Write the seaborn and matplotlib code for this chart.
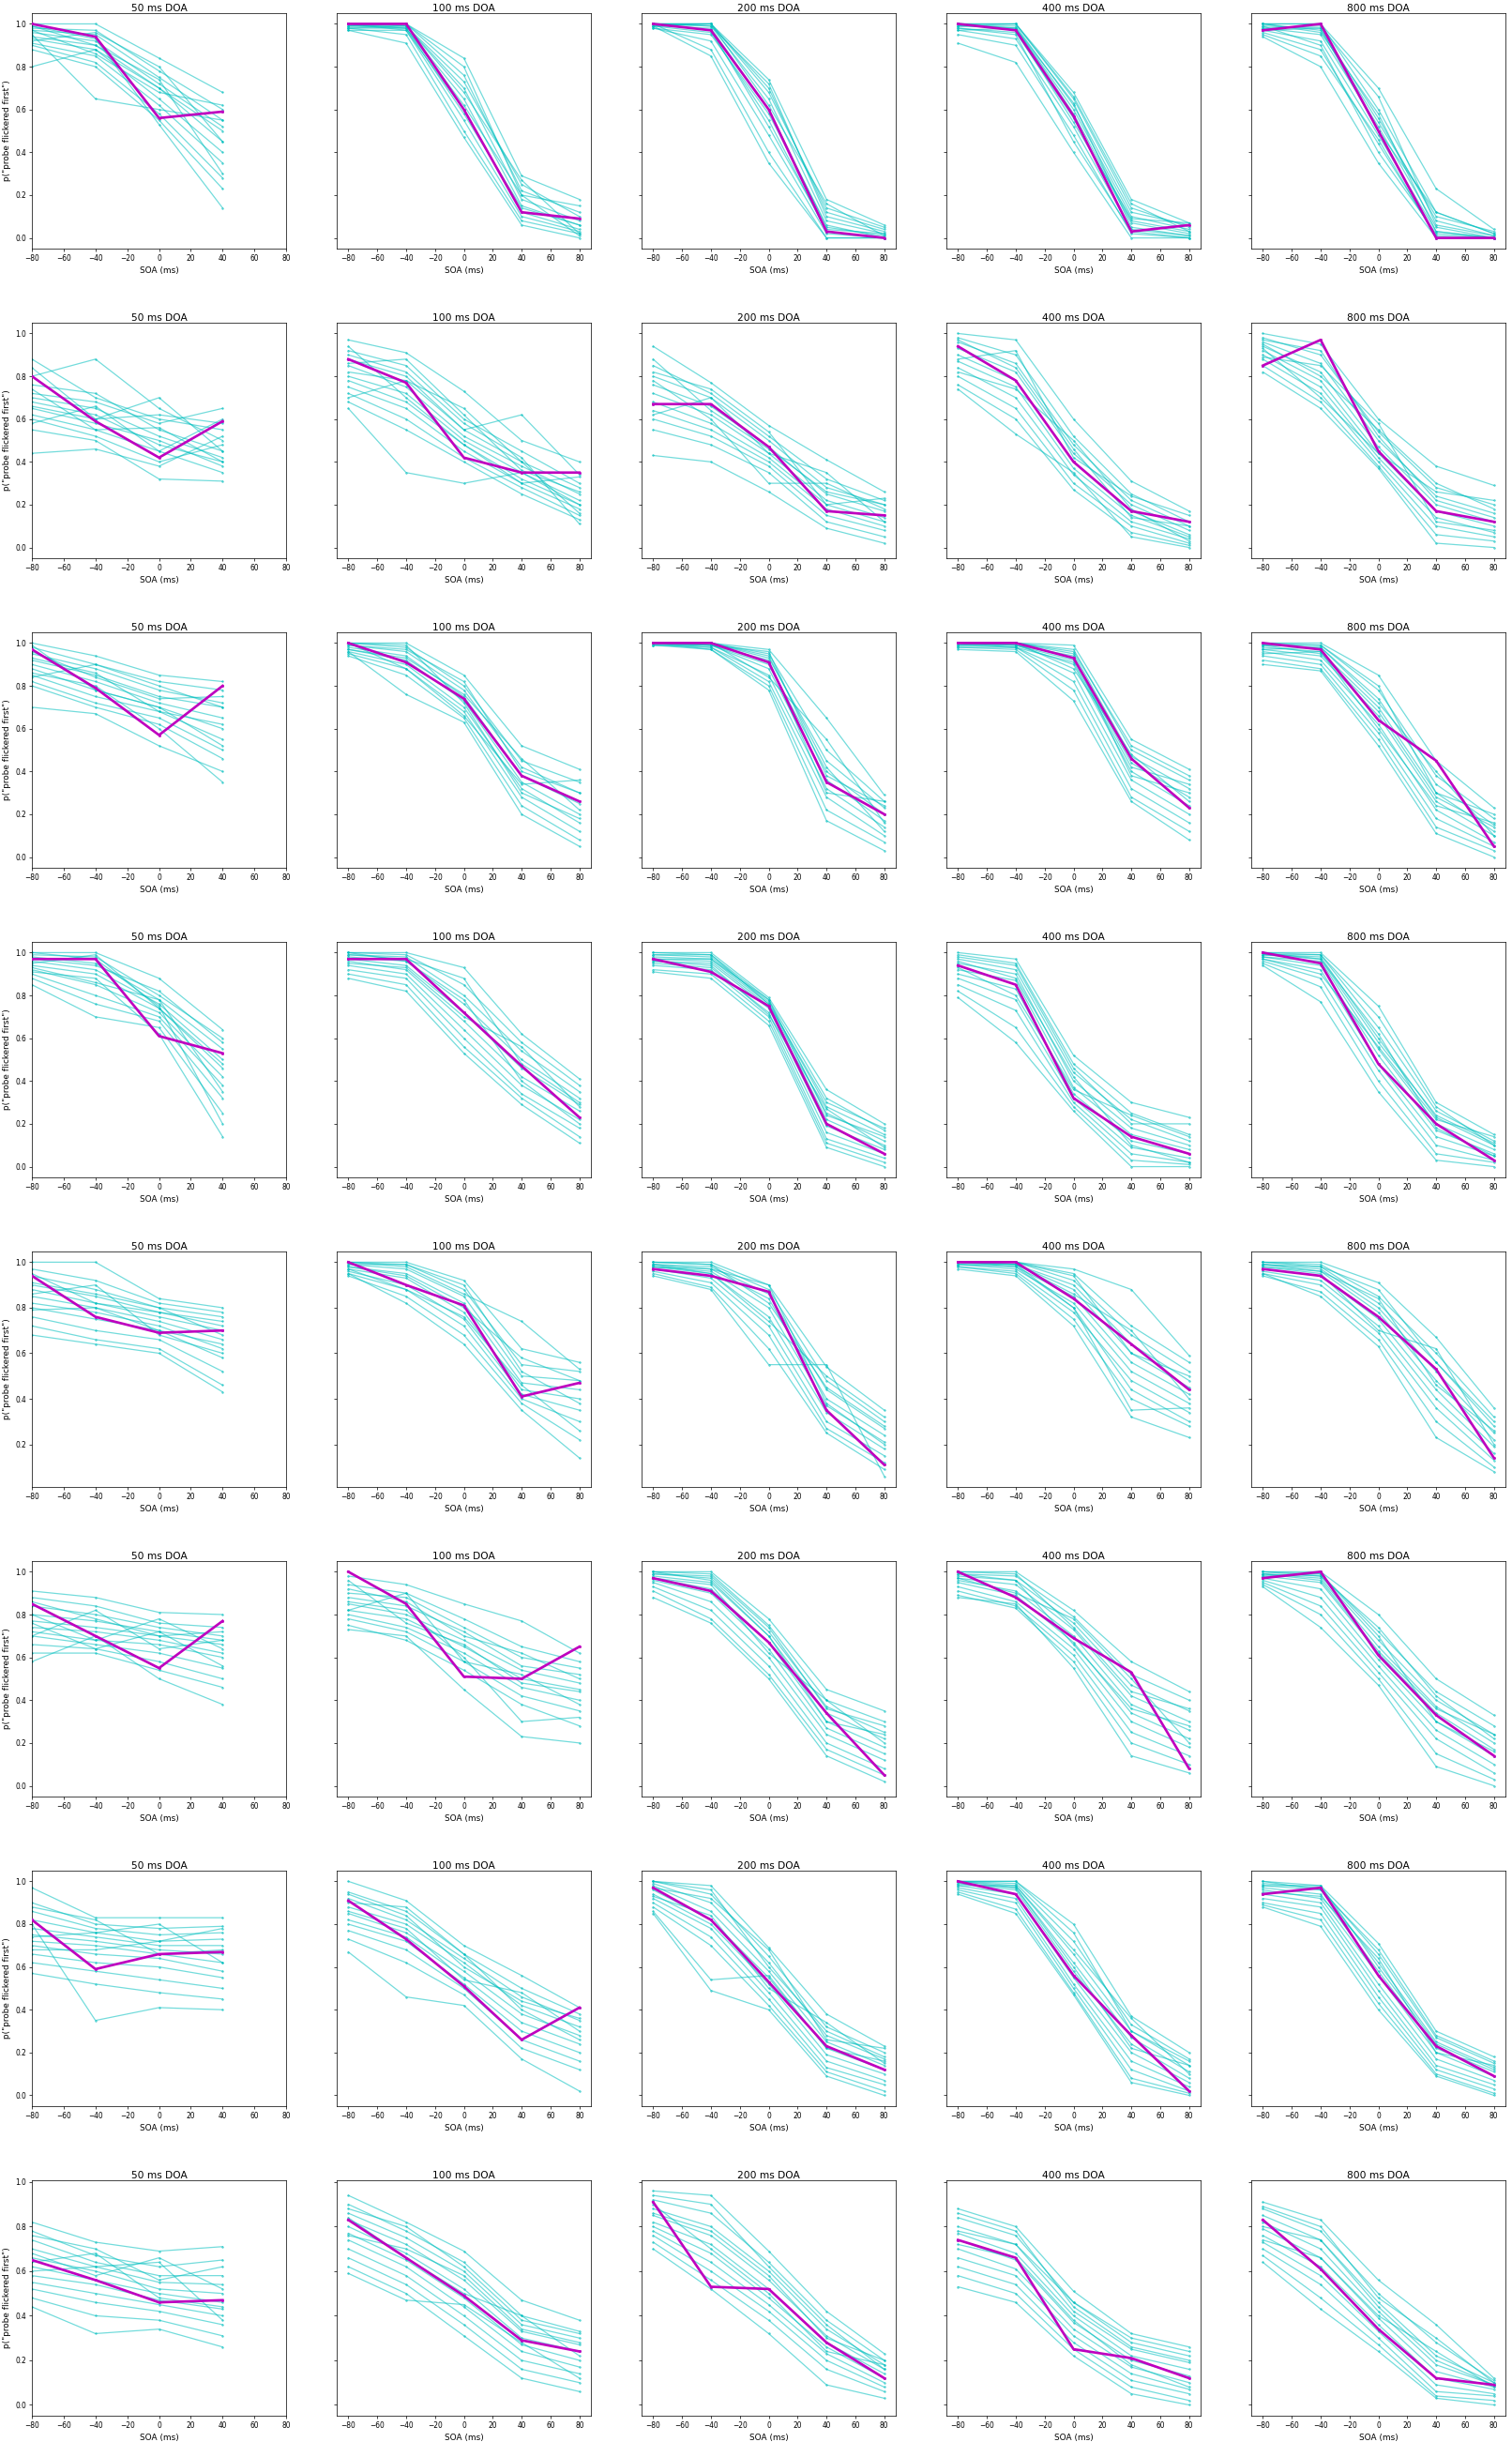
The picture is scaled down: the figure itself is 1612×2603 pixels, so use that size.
import pandas as pd
import seaborn as sns
import matplotlib.pyplot as plt

SOA = [-80, -40, 0, 40, 80]
DOA = ["50 ms DOA", "100 ms DOA", "200 ms DOA", "400 ms DOA", "800 ms DOA"]

# group means (magenta), in percent; 50 ms DOA has no 80 ms SOA
mean_r1 = [[100, 94, 56, 59], [100, 100, 60, 12, 9], [100, 97, 60, 3, 0], [100, 97, 57, 3, 6], [97, 100, 50, 0, 0]]
mean_r2 = [[80, 59, 42, 59], [88, 77, 42, 35, 35], [67, 67, 47, 17, 15], [94, 78, 40, 17, 12], [85, 97, 45, 17, 12]]
mean_r3 = [[97, 79, 57, 80], [100, 91, 74, 38, 26], [100, 100, 91, 35, 20], [100, 100, 93, 46, 23], [100, 97, 64, 45, 5]]
mean_r4 = [[97, 97, 61, 53], [97, 97, 72, 47, 23], [97, 91, 75, 20, 6], [94, 85, 32, 14, 6], [100, 95, 48, 20, 3]]
mean_r5 = [[94, 76, 69, 70], [100, 90, 81, 41, 47], [97, 94, 87, 35, 11], [100, 100, 84, 64, 44], [97, 94, 76, 53, 14]]
mean_r6 = [[85, 70, 55, 77], [100, 85, 51, 50, 65], [97, 91, 67, 34, 5], [100, 88, 69, 53, 8], [97, 100, 61, 33, 14]]
mean_r7 = [[82, 59, 66, 67], [91, 73, 51, 26, 41], [97, 82, 53, 23, 12], [100, 94, 56, 28, 2], [94, 97, 56, 23, 9]]
mean_r8 = [[65, 56, 46, 47], [83, 66, 49, 29, 24], [91, 53, 52, 28, 12], [74, 66, 25, 21, 12], [83, 61, 34, 12, 9]]

# individual observers (cyan), in percent
boot_r1 = [
    [[100, 100, 84, 68], [98, 97, 78, 60], [97, 95, 75, 55], [96, 92, 72, 52], [94, 90, 70, 45], [93, 88, 65, 40],
     [91, 85, 62, 35], [90, 82, 58, 28], [88, 80, 55, 23], [80, 88, 70, 50], [95, 65, 60, 55], [99, 93, 53, 14],
     [92, 96, 80, 45], [97, 86, 68, 62], [99, 90, 74, 30]],
    [[100, 100, 84, 29, 18], [100, 100, 76, 22, 12], [99, 99, 70, 18, 8], [98, 98, 65, 15, 6], [97, 97, 60, 12, 4],
     [100, 97, 55, 10, 3], [98, 95, 50, 8, 2], [97, 91, 47, 6, 0], [100, 99, 73, 25, 10], [99, 98, 62, 20, 1],
     [99, 100, 80, 20, 15], [100, 98, 58, 14, 6], [98, 99, 68, 27, 2]],
    [[100, 100, 74, 18, 6], [100, 100, 70, 12, 4], [100, 99, 65, 8, 2], [99, 98, 60, 5, 1], [99, 96, 55, 3, 0],
     [98, 92, 48, 2, 0], [100, 88, 40, 0, 0], [99, 85, 35, 0, 0], [100, 100, 68, 14, 5], [98, 95, 58, 6, 0],
     [100, 99, 72, 10, 3], [99, 100, 62, 16, 1], [100, 97, 52, 4, 2]],
    [[100, 100, 68, 18, 7], [100, 100, 65, 14, 5], [99, 98, 60, 10, 4], [98, 96, 56, 7, 2], [97, 93, 52, 4, 1],
     [95, 90, 48, 2, 0], [91, 82, 40, 0, 0], [99, 99, 62, 12, 6], [98, 95, 45, 3, 0], [100, 98, 58, 8, 3],
     [99, 100, 66, 16, 3], [100, 97, 54, 9, 7], [97, 98, 63, 5, 1]],
    [[100, 100, 70, 23, 4], [100, 100, 60, 12, 2], [99, 98, 56, 8, 1], [98, 95, 52, 5, 0], [97, 92, 48, 3, 0],
     [96, 88, 44, 1, 0], [94, 80, 35, 0, 0], [100, 97, 54, 10, 3], [99, 90, 40, 2, 0], [95, 85, 46, 0, 0],
     [98, 99, 66, 6, 1], [100, 96, 58, 3, 0], [97, 98, 50, 12, 2]],
]
boot_r2 = [
    [[88, 70, 60, 55], [80, 88, 65, 50], [76, 72, 55, 45], [72, 68, 58, 65], [70, 65, 52, 42], [68, 62, 48, 40],
     [65, 58, 50, 38], [62, 55, 45, 35], [60, 52, 40, 48], [55, 50, 32, 31], [44, 46, 38, 52], [66, 60, 70, 45],
     [84, 60, 62, 58], [58, 66, 45, 60], [74, 55, 56, 40]],
    [[97, 91, 73, 50, 40], [92, 85, 60, 45, 30], [88, 80, 55, 40, 28], [85, 75, 52, 38, 25], [80, 72, 50, 35, 22],
     [78, 68, 48, 32, 20], [75, 65, 45, 30, 18], [72, 60, 42, 28, 15], [68, 55, 40, 25, 13], [82, 78, 55, 62, 34],
     [65, 35, 30, 35, 20], [90, 82, 58, 42, 11], [86, 88, 62, 36, 26], [94, 70, 48, 30, 33], [70, 78, 65, 40, 16]],
    [[94, 77, 57, 41, 26], [85, 72, 52, 32, 22], [80, 70, 50, 28, 20], [76, 66, 47, 25, 17], [72, 62, 44, 22, 14],
     [68, 58, 42, 20, 12], [64, 55, 40, 18, 10], [60, 52, 38, 15, 8], [55, 48, 35, 12, 5], [43, 40, 26, 9, 2],
     [78, 60, 30, 30, 18], [88, 64, 46, 26, 20], [62, 70, 44, 35, 12], [82, 74, 54, 20, 23]],
    [[100, 97, 60, 31, 17], [98, 90, 52, 25, 12], [96, 86, 48, 22, 10], [93, 82, 44, 20, 8], [90, 78, 40, 17, 6],
     [87, 75, 37, 15, 5], [84, 70, 34, 12, 4], [80, 65, 30, 10, 2], [76, 60, 27, 7, 1], [74, 53, 35, 5, 0],
     [97, 84, 46, 14, 10], [88, 92, 42, 24, 15], [82, 74, 50, 18, 3]],
    [[100, 95, 60, 38, 29], [98, 90, 54, 28, 20], [96, 86, 50, 24, 16], [94, 82, 47, 20, 12], [92, 78, 44, 17, 10],
     [90, 75, 42, 14, 7], [88, 72, 40, 10, 5], [85, 68, 38, 6, 3], [82, 65, 37, 2, 0], [95, 80, 55, 30, 18],
     [97, 92, 52, 22, 14], [89, 85, 58, 12, 8], [93, 70, 44, 26, 22]],
]
boot_r3 = [
    [[100, 94, 85, 82], [98, 90, 82, 78], [95, 88, 78, 72], [92, 85, 75, 70], [90, 82, 72, 65], [88, 78, 70, 60],
     [85, 75, 68, 55], [82, 72, 65, 50], [80, 70, 62, 46], [70, 67, 52, 40], [86, 80, 60, 35], [96, 84, 74, 75],
     [93, 86, 68, 62], [84, 90, 80, 70], [99, 78, 70, 52]],
    [[100, 100, 85, 52, 41], [100, 98, 80, 45, 35], [99, 96, 78, 42, 30], [98, 94, 75, 38, 25], [97, 92, 73, 35, 20],
     [96, 90, 70, 32, 16], [95, 88, 68, 28, 12], [94, 85, 65, 24, 8], [96, 76, 63, 20, 5], [100, 99, 72, 30, 18],
     [99, 97, 82, 40, 30], [97, 93, 76, 46, 22], [100, 88, 66, 34, 36]],
    [[100, 100, 97, 65, 29], [100, 100, 95, 50, 26], [100, 100, 93, 45, 23], [100, 99, 90, 40, 20], [100, 99, 88, 36, 17],
     [100, 98, 85, 32, 14], [99, 98, 82, 28, 10], [99, 97, 80, 22, 7], [100, 97, 78, 17, 3], [100, 100, 94, 42, 12],
     [100, 99, 96, 38, 24], [100, 100, 84, 55, 16], [99, 99, 92, 30, 26]],
    [[100, 100, 99, 55, 41], [100, 100, 97, 50, 36], [100, 100, 95, 47, 32], [100, 99, 92, 44, 28], [99, 99, 90, 40, 24],
     [99, 98, 86, 36, 20], [98, 98, 82, 32, 16], [98, 97, 78, 28, 12], [97, 96, 73, 26, 8], [100, 100, 96, 52, 38],
     [100, 99, 94, 38, 30], [99, 100, 88, 48, 26], [100, 98, 91, 42, 34]],
    [[100, 100, 85, 45, 23], [100, 99, 78, 38, 18], [99, 98, 74, 34, 15], [98, 96, 70, 30, 12], [97, 94, 66, 26, 10],
     [96, 92, 62, 22, 7], [94, 90, 58, 18, 5], [92, 88, 55, 14, 3], [90, 87, 52, 11, 0], [99, 95, 68, 28, 14],
     [99, 99, 80, 30, 20], [97, 98, 72, 40, 10], [95, 96, 60, 24, 16]],
]
boot_r4 = [
    [[100, 100, 88, 64], [99, 98, 80, 60], [98, 95, 78, 55], [96, 92, 76, 50], [94, 90, 74, 46], [92, 85, 72, 42],
     [90, 80, 70, 38], [88, 76, 68, 32], [85, 70, 65, 25], [91, 88, 62, 14], [100, 97, 75, 20],
     [97, 94, 82, 58], [95, 99, 74, 48], [93, 86, 78, 35]],
    [[100, 100, 93, 62, 41], [100, 99, 85, 58, 38], [99, 98, 80, 54, 35], [98, 96, 76, 50, 32], [97, 94, 72, 46, 29],
     [96, 92, 68, 42, 26], [94, 90, 64, 38, 22], [92, 88, 60, 34, 18], [90, 85, 56, 32, 14], [88, 82, 53, 29, 11],
     [99, 97, 88, 48, 30], [95, 93, 70, 56, 28], [100, 96, 78, 40, 20]],
    [[100, 100, 79, 36, 20], [100, 99, 78, 32, 17], [99, 98, 77, 28, 15], [98, 97, 76, 25, 12], [97, 96, 75, 22, 10],
     [96, 95, 74, 19, 8], [95, 93, 72, 16, 6], [94, 92, 70, 13, 4], [92, 90, 68, 11, 2], [91, 88, 66, 9, 0],
     [99, 99, 76, 30, 18], [97, 97, 78, 24, 14], [96, 94, 71, 27, 9]],
    [[100, 97, 52, 30, 23], [99, 95, 48, 25, 15], [97, 92, 44, 22, 12], [95, 90, 40, 18, 10], [92, 87, 37, 15, 8],
     [90, 83, 34, 12, 6], [88, 78, 32, 9, 4], [85, 73, 30, 6, 2], [82, 65, 28, 3, 1], [79, 58, 26, 0, 0],
     [98, 94, 46, 20, 20], [96, 88, 42, 10, 2], [93, 80, 36, 24, 14]],
    [[100, 100, 75, 30, 15], [100, 99, 65, 26, 12], [99, 98, 60, 23, 10], [98, 96, 55, 20, 8], [98, 94, 52, 17, 6],
     [97, 92, 48, 14, 5], [96, 88, 45, 10, 3], [95, 84, 40, 6, 2], [94, 77, 35, 3, 0], [99, 97, 58, 24, 11],
     [99, 99, 70, 28, 10], [100, 97, 62, 18, 5], [97, 90, 56, 22, 14]],
]
boot_r5 = [
    [[100, 100, 84, 80], [97, 92, 82, 78], [94, 88, 80, 76], [90, 85, 78, 74], [88, 82, 76, 70], [85, 80, 74, 66],
     [82, 78, 72, 62], [80, 75, 70, 58], [76, 70, 66, 52], [72, 66, 62, 46], [68, 64, 60, 43], [86, 90, 68, 60],
     [91, 86, 80, 68], [95, 82, 78, 72], [79, 80, 70, 64]],
    [[100, 100, 92, 62, 56], [100, 99, 88, 55, 52], [99, 97, 85, 50, 48], [98, 95, 82, 47, 44], [97, 93, 78, 44, 40],
     [96, 90, 75, 42, 35], [95, 88, 72, 40, 30], [94, 85, 68, 38, 22], [95, 82, 64, 35, 14], [100, 98, 86, 74, 53],
     [99, 99, 90, 52, 38], [98, 94, 80, 58, 48], [97, 88, 76, 46, 26]],
    [[100, 100, 90, 54, 35], [100, 99, 88, 48, 30], [99, 98, 86, 44, 27], [99, 97, 84, 40, 24], [98, 96, 80, 37, 21],
     [98, 95, 76, 34, 18], [97, 93, 72, 30, 15], [96, 91, 68, 27, 12], [95, 89, 62, 25, 9], [94, 88, 55, 55, 6],
     [100, 99, 82, 45, 28], [98, 97, 90, 38, 20], [99, 95, 74, 50, 32]],
    [[100, 100, 97, 88, 59], [100, 100, 95, 72, 56], [100, 100, 92, 68, 52], [100, 99, 90, 64, 48], [100, 99, 88, 60, 45],
     [99, 98, 85, 56, 42], [99, 97, 82, 52, 38], [98, 96, 78, 48, 34], [98, 95, 75, 40, 28], [97, 94, 72, 32, 23],
     [100, 99, 80, 35, 36], [100, 100, 94, 60, 50], [99, 99, 86, 70, 40], [100, 98, 80, 44, 30]],
    [[100, 100, 91, 67, 36], [100, 99, 85, 60, 32], [99, 98, 82, 56, 28], [99, 97, 80, 52, 25], [98, 96, 78, 48, 22],
     [97, 94, 75, 44, 19], [96, 92, 72, 40, 16], [95, 90, 69, 36, 13], [94, 87, 66, 30, 10], [95, 85, 63, 23, 8],
     [100, 98, 88, 56, 30], [98, 95, 70, 62, 20], [99, 96, 84, 46, 26]],
]
boot_r6 = [
    [[91, 88, 81, 80], [88, 84, 76, 74], [84, 80, 74, 70], [80, 77, 72, 68], [77, 74, 70, 66], [74, 72, 68, 62],
     [72, 68, 66, 60], [70, 66, 62, 55], [66, 64, 58, 50], [62, 62, 54, 46], [58, 70, 50, 38], [80, 68, 78, 64],
     [86, 78, 70, 72], [70, 82, 64, 68], [76, 64, 72, 56]],
    [[98, 94, 85, 77, 62], [94, 90, 78, 65, 58], [90, 88, 74, 60, 55], [88, 84, 72, 56, 52], [85, 80, 68, 54, 48],
     [82, 78, 65, 50, 45], [80, 74, 62, 46, 40], [78, 72, 58, 42, 35], [75, 68, 54, 38, 28], [73, 70, 45, 23, 20],
     [86, 82, 60, 30, 32], [92, 86, 70, 62, 50], [96, 76, 66, 48, 44], [82, 90, 58, 52, 38]],
    [[100, 100, 78, 45, 35], [100, 99, 75, 40, 30], [99, 97, 72, 37, 25], [98, 95, 70, 34, 22], [97, 92, 67, 30, 18],
     [96, 90, 64, 27, 15], [95, 86, 60, 24, 12], [93, 82, 56, 20, 8], [91, 78, 52, 17, 5], [88, 76, 50, 14, 2],
     [99, 98, 74, 36, 28], [97, 94, 62, 40, 20], [100, 96, 70, 30, 24]],
    [[100, 100, 82, 58, 44], [99, 98, 79, 52, 40], [98, 96, 76, 47, 35], [97, 94, 73, 42, 30], [96, 91, 70, 38, 26],
     [95, 89, 67, 34, 22], [93, 86, 64, 30, 18], [91, 84, 61, 25, 14], [89, 83, 58, 20, 10], [88, 85, 55, 14, 6],
     [100, 99, 74, 44, 36], [97, 90, 78, 50, 20], [99, 96, 66, 36, 28]],
    [[100, 100, 80, 50, 33], [100, 99, 72, 44, 28], [99, 98, 68, 40, 24], [99, 97, 65, 37, 20], [98, 95, 62, 34, 17],
     [97, 92, 59, 30, 14], [96, 88, 56, 26, 10], [95, 84, 53, 22, 6], [94, 80, 50, 15, 3], [93, 74, 47, 9, 0],
     [100, 98, 74, 42, 22], [99, 96, 63, 36, 24], [98, 99, 70, 30, 16]],
]
boot_r7 = [
    [[97, 83, 83, 83], [90, 80, 78, 79], [86, 78, 75, 76], [82, 76, 72, 73], [78, 74, 70, 70], [75, 72, 68, 66],
     [72, 70, 66, 62], [70, 66, 64, 58], [66, 62, 60, 55], [62, 58, 54, 50], [57, 52, 48, 45], [80, 35, 41, 40],
     [88, 82, 66, 68], [74, 76, 80, 62], [68, 68, 72, 78]],
    [[100, 91, 70, 56, 41], [95, 86, 66, 50, 38], [92, 82, 64, 46, 35], [88, 80, 62, 42, 32], [85, 76, 58, 38, 28],
     [82, 74, 55, 34, 24], [80, 72, 52, 30, 20], [77, 68, 50, 26, 16], [73, 62, 47, 22, 12], [67, 46, 42, 17, 2],
     [94, 84, 60, 44, 36], [90, 88, 66, 40, 26], [86, 78, 54, 48, 30]],
    [[100, 98, 69, 38, 23], [100, 94, 65, 32, 20], [99, 90, 62, 28, 17], [98, 86, 58, 25, 14], [96, 82, 55, 22, 12],
     [94, 80, 52, 19, 10], [92, 78, 48, 16, 7], [90, 74, 45, 13, 5], [88, 70, 42, 11, 2], [85, 49, 40, 9, 0],
     [86, 54, 56, 22, 16], [100, 96, 60, 30, 18], [97, 92, 68, 26, 22], [93, 84, 50, 34, 15]],
    [[100, 100, 80, 37, 20], [100, 99, 72, 33, 17], [100, 98, 66, 30, 14], [99, 97, 62, 27, 11], [99, 96, 58, 24, 8],
     [98, 94, 55, 20, 6], [97, 92, 52, 16, 4], [96, 90, 50, 12, 2], [95, 87, 48, 8, 1], [94, 85, 47, 6, 0],
     [100, 100, 76, 30, 16], [98, 98, 68, 36, 10], [100, 97, 60, 22, 14]],
    [[100, 98, 71, 30, 18], [99, 97, 66, 27, 15], [98, 96, 62, 25, 13], [97, 94, 58, 22, 11], [96, 92, 56, 20, 9],
     [94, 90, 52, 17, 7], [92, 88, 49, 14, 5], [90, 85, 46, 12, 3], [89, 82, 43, 10, 1], [88, 79, 40, 9, 0],
     [100, 96, 68, 28, 16], [98, 98, 60, 24, 12], [95, 93, 64, 20, 14]],
]
boot_r8 = [
    [[82, 73, 69, 71], [78, 67, 62, 65], [74, 64, 58, 58], [70, 62, 55, 54], [66, 60, 52, 50], [62, 56, 50, 46],
     [58, 54, 47, 43], [55, 50, 45, 40], [52, 46, 42, 36], [48, 40, 38, 31], [44, 32, 34, 26], [60, 62, 64, 38],
     [76, 70, 56, 62], [68, 58, 66, 52], [64, 68, 48, 44]],
    [[94, 82, 69, 47, 38], [90, 78, 64, 40, 33], [86, 75, 60, 36, 30], [83, 72, 56, 33, 27], [80, 68, 52, 30, 24],
     [77, 65, 48, 27, 20], [74, 62, 44, 24, 17], [70, 58, 40, 20, 14], [66, 54, 36, 16, 10], [62, 50, 31, 12, 6],
     [59, 47, 45, 28, 12], [88, 80, 62, 38, 32], [76, 70, 58, 34, 28], [84, 66, 50, 40, 22]],
    [[96, 94, 69, 42, 23], [92, 86, 64, 38, 20], [88, 80, 60, 34, 18], [85, 76, 56, 31, 16], [82, 72, 52, 28, 14],
     [80, 68, 48, 26, 12], [78, 64, 45, 23, 10], [76, 60, 42, 20, 8], [73, 56, 38, 16, 6], [70, 52, 32, 9, 3],
     [94, 90, 62, 36, 16], [86, 78, 58, 30, 20], [90, 70, 50, 24, 18]],
    [[88, 80, 51, 32, 26], [84, 76, 46, 28, 22], [80, 72, 42, 25, 19], [77, 68, 40, 22, 16], [74, 65, 37, 20, 13],
     [70, 61, 34, 17, 10], [66, 58, 31, 14, 7], [62, 54, 28, 11, 5], [58, 50, 25, 8, 2], [53, 46, 22, 5, 0],
     [86, 78, 44, 26, 20], [78, 72, 46, 30, 24], [72, 66, 38, 18, 8]],
    [[91, 83, 56, 36, 12], [88, 78, 50, 28, 11], [85, 74, 46, 22, 10], [82, 70, 42, 18, 9], [79, 66, 39, 15, 8],
     [76, 62, 36, 12, 7], [73, 58, 33, 9, 5], [70, 54, 30, 6, 4], [67, 48, 27, 4, 2], [64, 43, 24, 3, 0],
     [89, 80, 48, 30, 10], [80, 74, 44, 20, 9], [74, 66, 40, 24, 8]],
]

rows = [(mean_r1, boot_r1), (mean_r2, boot_r2), (mean_r3, boot_r3), (mean_r4, boot_r4),
        (mean_r5, boot_r5), (mean_r6, boot_r6), (mean_r7, boot_r7), (mean_r8, boot_r8)]


def to_frame(lines):
    recs = []
    for i, ln in enumerate(lines):
        for x, v in zip(SOA, ln):
            recs.append((i, x, v / 100))
    return pd.DataFrame(recs, columns=["unit", "SOA", "p"])


DPI = 64
fig, axes = plt.subplots(8, 5, figsize=(1612 / DPI, 2603 / DPI), dpi=DPI, sharey="row")
fig.subplots_adjust(left=0.0211, right=0.9957, top=0.9946, bottom=0.0108, wspace=0.199, hspace=0.315)

for r, (means, boots) in enumerate(rows):
    for c in range(5):
        ax = axes[r, c]
        sns.lineplot(data=to_frame(boots[c]), x="SOA", y="p", units="unit", estimator=None,
                     color="c", alpha=0.55, lw=1.4, marker=".", markersize=4, mec="c", ax=ax)
        sns.lineplot(data=to_frame([means[c]]), x="SOA", y="p", units="unit", estimator=None,
                     color="m", lw=3, marker=".", markersize=5, mec="m", ax=ax, zorder=5)
        ax.set_title(DOA[c], fontsize=12, pad=2)
        ax.set_xlabel("SOA (ms)", fontsize=10)
        ax.set_ylabel('p("probe flickered first")', fontsize=10)
        ax.set_xticks(range(-80, 81, 20))
        ax.tick_params(labelsize=8.5)
        if c == 0:
            ax.set_xlim(-80, 80)

fig.savefig("out.png", dpi=DPI)
